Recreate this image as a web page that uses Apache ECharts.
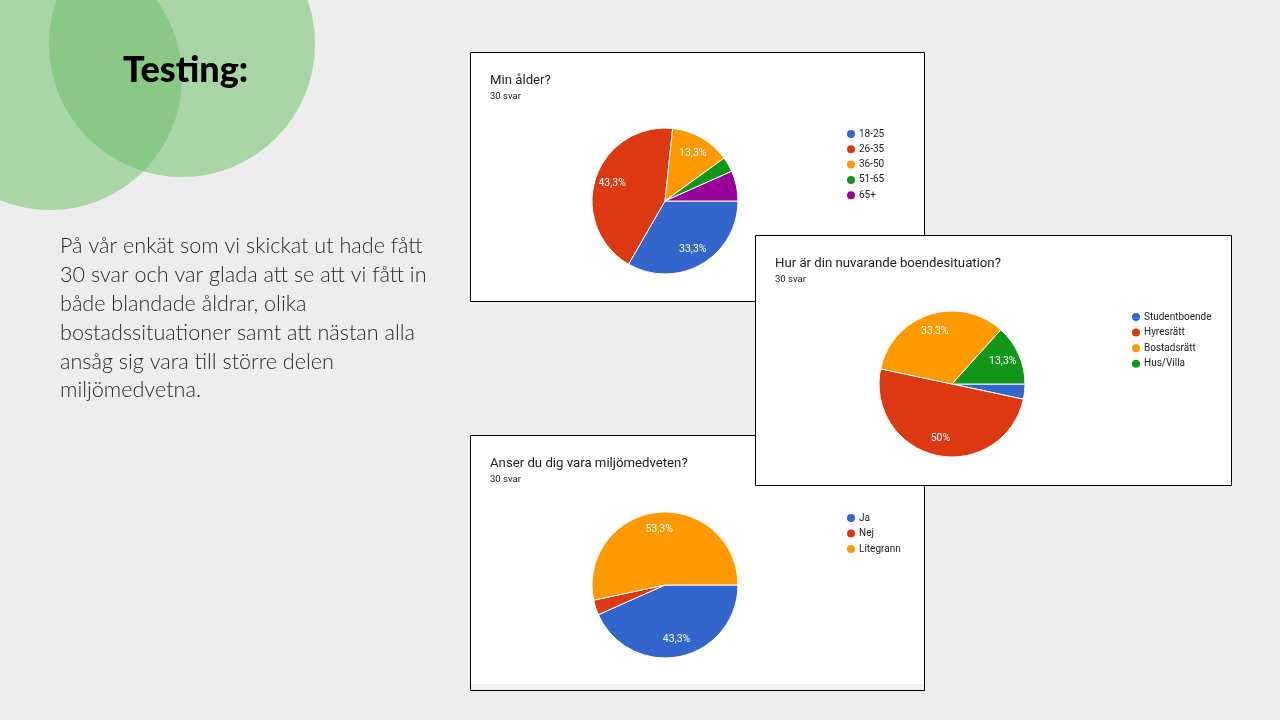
<!DOCTYPE html>
<html>
<head>
<meta charset="utf-8">
<script src="https://cdn.jsdelivr.net/npm/echarts@6/dist/echarts.min.js"></script>
<style>
html,body{margin:0;padding:0;background:#ededed;}
#c{width:1280px;height:720px;}
</style>
</head>
<body>
<div id="c"></div>
<script>
// ---- data ----
const ageCats = ['18-25', '26-35', '36-50', '51-65', '65+'];
const ageVals = [10, 13, 4, 1, 2];
const homeCats = ['Studentboende', 'Hyresrätt', 'Bostadsrätt', 'Hus/Villa'];
const homeVals = [1, 15, 10, 4];
const envCats = ['Ja', 'Nej', 'Litegrann'];
const envVals = [13, 1, 16];
const chartTitles = ['Min ålder?', 'Hur är din nuvarande boendesituation?', 'Anser du dig vara miljömedveten?'];
const answerCount = '30 svar';
const slideTitle = 'Testing:';
const slideLines = [
  'På vår enkät som vi skickat ut hade fått',
  '30 svar och var glada att se att vi fått in',
  'både blandade åldrar, olika',
  'bostadssituationer samt att nästan alla',
  'ansåg sig vara till större delen',
  'miljömedvetna.'
];
const palette = ['#3366cc', '#dc3912', '#ff9900', '#109618', '#990099'];

// ---- layout ----
const boxes = [
  {x: 470, y: 52, w: 454, h: 249, cx: 665, cy: 201, lx: 845, ly: 128, gap: 3.3},
  {x: 755, y: 235, w: 476, h: 250, cx: 952, cy: 384, lx: 1130, ly: 311, gap: 3.6},
  {x: 470, y: 435, w: 454, h: 255, cx: 665, cy: 585, lx: 845, ly: 512, gap: 3.5}
];
const R = 73;
const cats = [ageCats, homeCats, envCats];
const vals = [ageVals, homeVals, envVals];

function fmtPct(v, total) {
  const p = Math.round(v / total * 1000) / 10;
  return String(p).replace('.', ',') + '%';
}

const chart = echarts.init(document.getElementById('c'));

const graphics = [];
// background circles
graphics.push({type: 'circle', z: 0, shape: {cx: 50, cy: 78, r: 132}, style: {fill: 'rgb(108,191,104)', opacity: 0.53}});
graphics.push({type: 'circle', z: 0, shape: {cx: 182, cy: 44, r: 133}, style: {fill: 'rgb(108,191,104)', opacity: 0.53}});
graphics.push({type: 'text', z: 1, left: 123, top: 52, style: {text: slideTitle, fill: '#000', font: '900 36px Lato, "DejaVu Sans", sans-serif'}});
graphics.push({type: 'text', z: 1, left: 60, top: 232, style: {text: slideLines.join('\n'), fill: '#2a2a2a', font: '300 21.6px Lato, "Open Sans", sans-serif', lineHeight: 28.8}});

// boxes drawn in order 0, 2, 1 (box 1 sits on top)
[0, 2, 1].forEach(function (i, k) {
  const b = boxes[i];
  graphics.push({type: 'rect', z: 1, shape: {x: b.x + 0.5, y: b.y + 0.5, width: b.w, height: b.h}, style: {fill: '#fff', stroke: '#000', lineWidth: 1}, z2: k * 10});
  if (i === 2) {
    graphics.push({type: 'rect', z: 1, shape: {x: b.x + 1, y: b.y + b.h - 6, width: b.w - 1, height: 6}, style: {fill: '#f1f1f1'}, z2: k * 10 + 1});
  }
  graphics.push({type: 'text', z: 1, z2: k * 10 + 2, left: b.x + 20, top: b.y + 22, style: {text: chartTitles[i], fill: '#202124', font: '13.2px Roboto, Arial, sans-serif'}});
  graphics.push({type: 'text', z: 1, z2: k * 10 + 2, left: b.x + 20, top: b.y + 40, style: {text: answerCount, fill: '#202124', font: '9.5px Roboto, Arial, sans-serif'}});
});

const series = [];
const legends = [];
for (let i = 0; i < 3; i++) {
  const b = boxes[i];
  const total = vals[i].reduce((a, c) => a + c, 0);
  const data = cats[i].map((n, j) => ({name: n, value: vals[i][j], itemStyle: {color: palette[j]}}));
  series.push({
    type: 'pie', center: [b.cx, b.cy], radius: [0, R], startAngle: 0, clockwise: true,
    z: 3, silent: true, avoidLabelOverlap: false,
    itemStyle: {borderColor: '#fff', borderWidth: 1},
    label: {show: false}, labelLine: {show: false},
    data: data
  });
  series.push({
    type: 'pie', center: [b.cx, b.cy], radius: [R * 0.44, R], startAngle: 0, clockwise: true,
    z: 4, silent: true, avoidLabelOverlap: false,
    itemStyle: {color: 'rgba(0,0,0,0)', borderWidth: 0},
    label: {
      show: true, position: 'inside', color: '#fff', fontSize: 10.5, fontFamily: 'Roboto, Arial, sans-serif',
      formatter: function (p) { return p.value / total < 0.1 ? '' : fmtPct(p.value, total); }
    },
    labelLine: {show: false},
    data: cats[i].map((n, j) => ({name: n, value: vals[i][j]}))
  });
  legends.push({
    data: cats[i], orient: 'vertical', left: b.lx, top: b.ly, icon: 'circle', padding: 0,
    itemWidth: 10, itemHeight: 10, itemGap: b.gap, selectedMode: false, z: 5,
    textStyle: {fontSize: 10, color: '#222', fontFamily: 'Roboto, Arial, sans-serif', padding: [0, 0, 0, -2]}
  });
}

chart.setOption({
  animation: false,
  backgroundColor: '#ededed',
  graphic: {elements: graphics},
  legend: legends,
  series: series
});
</script>
</body>
</html>
